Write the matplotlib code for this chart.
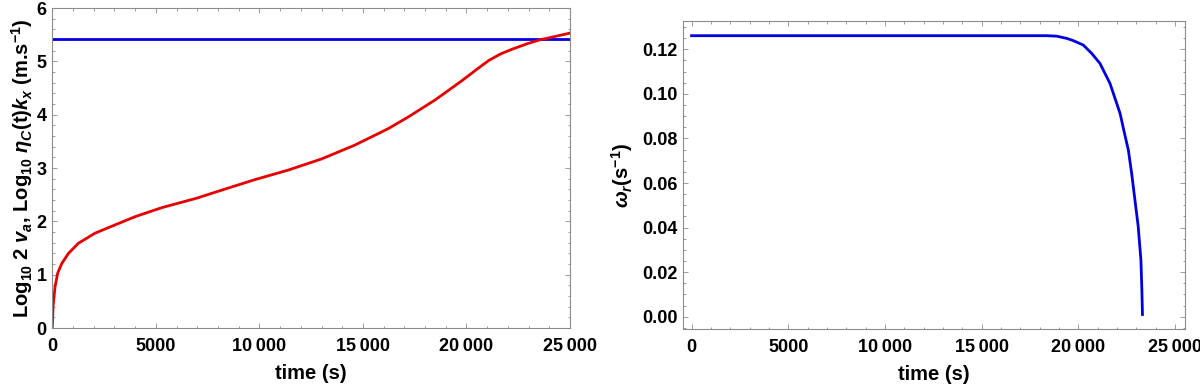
import matplotlib
matplotlib.use("Agg")
import matplotlib.pyplot as plt
from matplotlib.ticker import MultipleLocator, FuncFormatter
import numpy as np

from matplotlib import rcParams
rcParams['font.family'] = ['Liberation Sans', 'DejaVu Sans']
rcParams['font.weight'] = 'bold'
rcParams['mathtext.fontset'] = 'custom'
rcParams['mathtext.rm'] = 'Liberation Sans:bold'
rcParams['mathtext.it'] = 'Liberation Sans:bold:italic'
rcParams['mathtext.bf'] = 'Liberation Sans:bold'

# left panel: Log10 eta_C(t) k_x (red) against the constant Log10 2 v_a (blue)
t_red = [0, 35, 130, 260, 455, 780, 1260, 2070, 2880, 4010, 5310, 6930, 8380,
         9760, 11380, 13000, 14610, 16230, 17200, 18500, 19790, 20530, 21090,
         21650, 22220, 22930, 23510, 25000]
log_eta = [0.0, 0.40, 0.77, 1.03, 1.21, 1.40, 1.59, 1.78, 1.91, 2.09, 2.26, 2.43,
           2.61, 2.78, 2.96, 3.17, 3.43, 3.74, 3.96, 4.28, 4.64, 4.86, 5.02,
           5.14, 5.23, 5.33, 5.40, 5.53]
log_2va = 5.41

# right panel: omega_r(t)
t_om = [0, 5000, 10000, 15000, 17500, 18370, 18880, 19400, 19740, 20260, 20690,
        21120, 21380, 21640, 21900, 22160, 22370, 22590, 22760, 22930, 23100,
        23240, 23290, 23320]
omega_r = [0.1261, 0.1261, 0.1261, 0.1261, 0.1261, 0.1261, 0.1259, 0.1249, 0.1239,
           0.1219, 0.1182, 0.1137, 0.1092, 0.1047, 0.0980, 0.0913, 0.0831, 0.0748,
           0.0644, 0.0524, 0.0405, 0.0255, 0.0120, 0.0010]

fs = 13
fs_l = 14.5
frame_c = "#8c8c8c"


def thin_fmt(v, pos):
    v = int(round(v))
    if v >= 10000:
        return f"{v // 1000}\u2009{v % 1000:03d}"
    return str(v)


def style_frame(ax, xminor, yminor):
    for s in ax.spines.values():
        s.set_color(frame_c)
        s.set_linewidth(0.8)
    ax.xaxis.set_minor_locator(MultipleLocator(xminor))
    ax.yaxis.set_minor_locator(MultipleLocator(yminor))
    ax.tick_params(which='both', direction='in', top=True, right=True,
                   color=frame_c, width=0.6, labelsize=fs)
    ax.tick_params(which='major', length=3.4)
    ax.tick_params(which='minor', length=1.8)
    ax.tick_params(axis='x', which='major', pad=7)
    ax.tick_params(axis='y', which='major', pad=4)
    ax.xaxis.set_major_locator(MultipleLocator(5000))
    ax.xaxis.set_major_formatter(FuncFormatter(thin_fmt))


fig = plt.figure(figsize=(12, 3.91), dpi=100)

ax1 = fig.add_axes([0.0436, 0.161, 0.4314, 0.8185])
ax1.plot([0, 25000], [log_2va, log_2va], color="#0000e0", lw=2.0)
ax1.plot(t_red, log_eta, color="#e80000", lw=2.0)
ax1.set_xlim(0, 25000)
ax1.set_ylim(0, 6)
style_frame(ax1, 1000, 0.2)
ax1.yaxis.set_major_locator(MultipleLocator(1))
ax1.set_xlabel("time (s)", fontsize=fs_l, fontweight='bold', labelpad=7)
ax1.set_ylabel(r"Log$_{10}$ 2 $v_a$, Log$_{10}$ $\eta_C$(t)$k_x$ (m.s$^{-1}$)",
               fontsize=fs_l, fontweight='bold', labelpad=1)

ax2 = fig.add_axes([0.5692, 0.1586, 0.4183, 0.7877])
ax2.plot(t_om, omega_r, color="#0000e0", lw=2.0)
ax2.set_xlim(-440, 25520)
ax2.set_ylim(-0.0055, 0.1327)
style_frame(ax2, 1000, 0.005)
ax2.yaxis.set_major_locator(MultipleLocator(0.02))
ax2.yaxis.set_major_formatter(FuncFormatter(lambda v, p: f"{v:.2f}"))
ax2.set_xlabel("time (s)", fontsize=fs_l, fontweight='bold', labelpad=7)
ax2.set_ylabel(r"$\omega_r$(s$^{-1}$)", fontsize=fs_l, fontweight='bold', labelpad=5)

fig.savefig("out.png", dpi=100)
